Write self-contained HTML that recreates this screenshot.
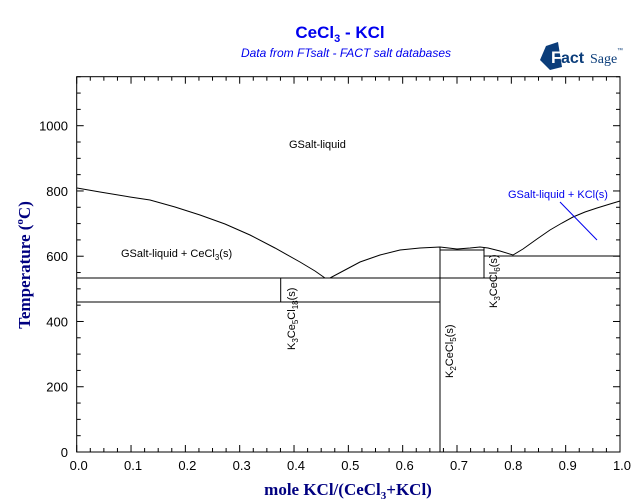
<!DOCTYPE html>
<html><head><meta charset="utf-8"><style>
body{margin:0;background:#fff}
svg{display:block}
.s{font-family:"Liberation Sans",sans-serif}
.r{font-family:"Liberation Serif",serif}
</style></head><body>
<svg width="640" height="504" viewBox="0 0 640 504" xmlns="http://www.w3.org/2000/svg">
<rect width="640" height="504" fill="#fff"/>
<text class="s" x="340" y="38" font-size="17" font-weight="bold" fill="#0000ee" text-anchor="middle">CeCl<tspan font-size="11" dy="4">3</tspan><tspan dy="-4"> - KCl</tspan></text>
<text class="s" x="346" y="57" font-size="12" font-style="italic" fill="#0000ee" text-anchor="middle">Data from FTsalt - FACT salt databases</text>
<g>
<polygon points="546,46 558,42 562,67 550,70 540,60" fill="#0b3d7a"/>
<text class="s" x="551" y="63" font-size="17" font-weight="bold" fill="#fff">F</text>
<text class="s" x="561" y="63" font-size="16" font-weight="bold" fill="#0b3d7a">act</text>
<text class="r" x="590" y="63" font-size="14" fill="#0b3d7a">Sage</text>
<text class="s" x="617" y="52" font-size="6" fill="#0b3d7a">™</text>
</g>
<rect x="76.7" y="76.7" width="543.3" height="375.3" fill="none" stroke="#000" stroke-width="1"/>
<g id="ticks" stroke="#000" stroke-width="1"></g>
<g class="s" fill="#000" font-size="13" text-anchor="end" id="yl"></g>
<g class="s" fill="#000" font-size="13" text-anchor="middle" id="xl"></g>
<g fill="none" stroke="#000" stroke-width="1">
<polyline points="77,188 100,192 130,197 150,200 175,207 200,215 225,224 250,235 275,248 300,262 315,271 325,278"/>
<polyline points="325,278 330,278 345,270 360,262 380,255 400,250 420,248 440,247 457,249 470,248 480,247 488,248 500,251 513,255 523,249 537,239 550,230 562,223 573,217 585,212 597,208 610,204 620,201"/>
<line x1="77" y1="278" x2="620" y2="278"/>
<line x1="77" y1="302" x2="440" y2="302"/>
<line x1="440" y1="250" x2="484" y2="250"/>
<line x1="484" y1="256" x2="620" y2="256"/>
<line x1="280.7" y1="278" x2="280.7" y2="302"/>
<line x1="440" y1="247" x2="440" y2="452"/>
<line x1="484" y1="247" x2="484" y2="278"/>
</g>
<line x1="560" y1="202" x2="597" y2="240" stroke="#0000ee" stroke-width="1"/>
<text class="s" x="508" y="198" font-size="11" fill="#0000ee">GSalt-liquid + KCl(s)</text>
<text class="s" x="289" y="148" font-size="11" fill="#000">GSalt-liquid</text>
<text class="s" x="121" y="257" font-size="11" fill="#000">GSalt-liquid + CeCl<tspan font-size="8" dy="3">3</tspan><tspan dy="-3">(s)</tspan></text>
<text class="s" transform="translate(295,350) rotate(-90)" font-size="11" fill="#000">K<tspan font-size="8" dy="3">3</tspan><tspan dy="-3">Ce</tspan><tspan font-size="8" dy="3">5</tspan><tspan dy="-3">Cl</tspan><tspan font-size="8" dy="3">18</tspan><tspan dy="-3">(s)</tspan></text>
<text class="s" transform="translate(453,378) rotate(-90)" font-size="11" fill="#000">K<tspan font-size="8" dy="3">2</tspan><tspan dy="-3">CeCl</tspan><tspan font-size="8" dy="3">5</tspan><tspan dy="-3">(s)</tspan></text>
<text class="s" transform="translate(497,308) rotate(-90)" font-size="11" fill="#000">K<tspan font-size="8" dy="3">3</tspan><tspan dy="-3">CeCl</tspan><tspan font-size="8" dy="3">6</tspan><tspan dy="-3">(s)</tspan></text>
<text class="r" transform="translate(30,265) rotate(-90)" font-size="17" font-weight="bold" fill="#000080" text-anchor="middle">Temperature (<tspan font-size="11" dy="-7">o</tspan><tspan dy="7">C)</tspan></text>
<text class="r" x="348" y="495" font-size="17" font-weight="bold" fill="#000080" text-anchor="middle">mole KCl/(CeCl<tspan font-size="11" dy="4">3</tspan><tspan dy="-4">+KCl)</tspan></text>
<script>
var ns="http://www.w3.org/2000/svg",t=document.getElementById("ticks"),yl=document.getElementById("yl"),xl=document.getElementById("xl");
function L(a,b,c,d){var l=document.createElementNS(ns,"line");l.setAttribute("x1",a);l.setAttribute("y1",b);l.setAttribute("x2",c);l.setAttribute("y2",d);t.appendChild(l);}
function T(g,x,y,s){var e=document.createElementNS(ns,"text");e.setAttribute("x",x);e.setAttribute("y",y);e.textContent=s;g.appendChild(e);}
for(var i=0;i<=40;i++){var x=76.7+543.3*i/40,len=(i%4==0)?7:4;L(x,452,x,452-len);L(x,76.7,x,76.7+len);if(i%4==0)T(xl,x+2,470,(i/40).toFixed(1));}
for(var v=0;v<=1150;v+=50){var y=452-v*0.3263,len=(v%200==0)?7:4;L(76.7,y,76.7+len,y);L(620,y,620-len,y);if(v%200==0)T(yl,68,y+5,v);}
</script>
</svg>
</body></html>
